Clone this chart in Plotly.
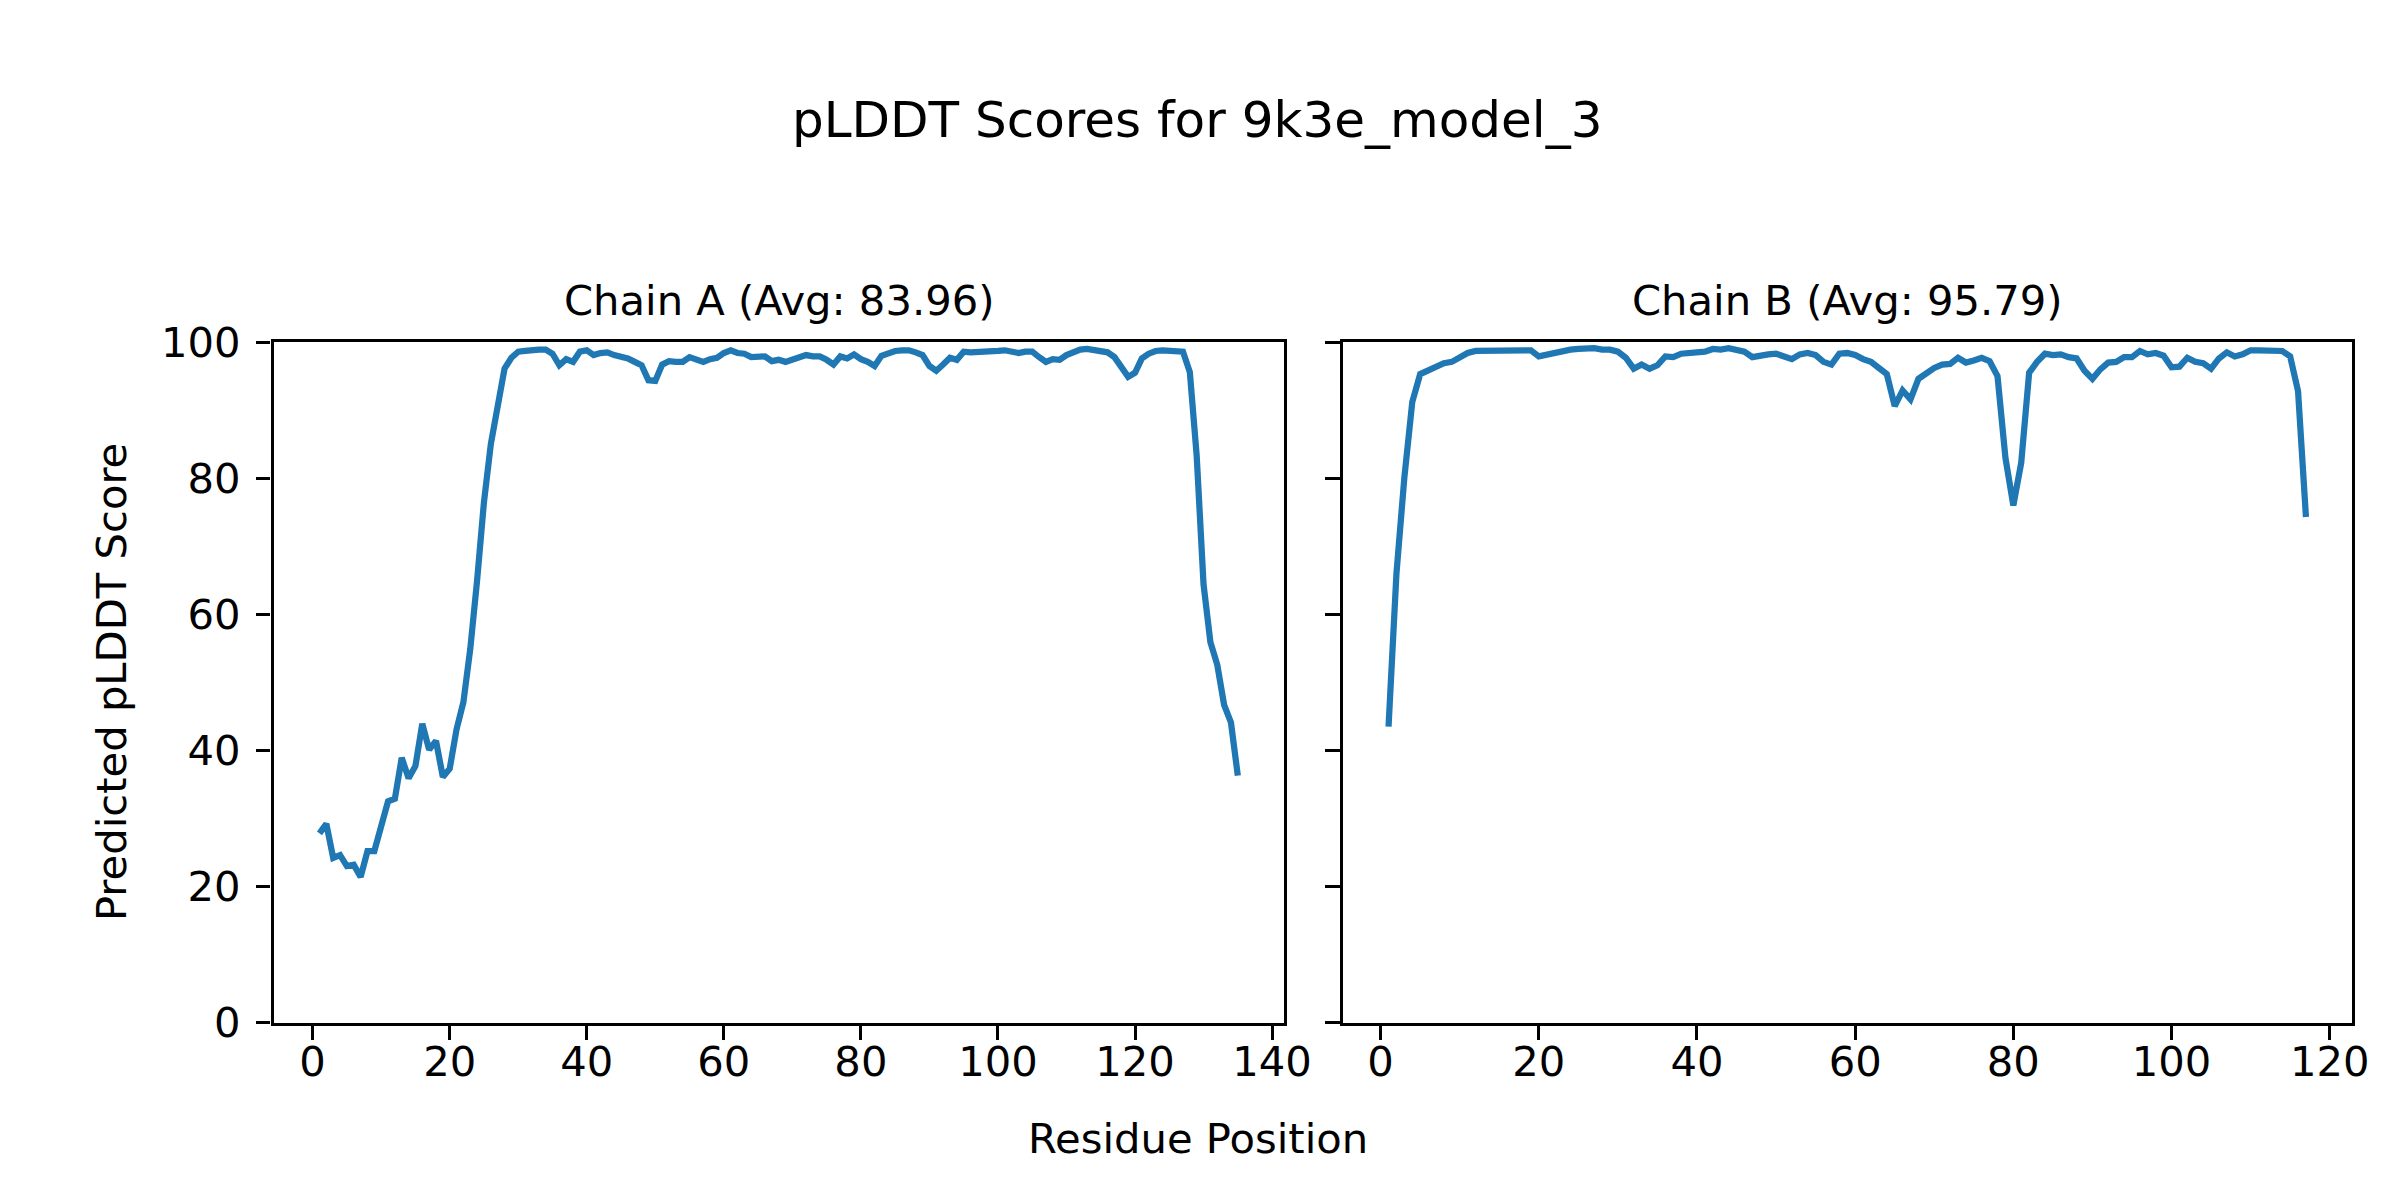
import plotly.graph_objects as go

# ---------------- data ----------------
chain_a_scores = [
    27.8, 29.2, 24.2, 24.6, 23.0, 23.2, 21.4, 25.2, 25.2, 28.6,
    32.5, 32.9, 38.9, 35.9, 37.7, 43.9, 40.1, 41.4, 36.1, 37.3,
    43.1, 47.1, 54.9, 65.0, 76.5, 85.0, 91.2, 96.1, 97.7, 98.6,
    98.7, 98.9, 98.9, 98.9, 98.3, 96.6, 97.5, 97.1, 98.6, 98.8,
    98.1, 98.4, 98.5, 98.1, 97.9, 97.6, 97.1, 96.6, 94.4, 94.3,
    96.7, 97.2, 97.1, 97.1, 97.8, 97.5, 97.1, 97.5, 97.7, 98.4,
    98.8, 98.4, 98.3, 97.8, 97.8, 97.9, 97.2, 97.4, 97.1, 97.5,
    97.8, 98.1, 97.9, 97.9, 97.4, 96.7, 97.9, 97.6, 98.2, 97.5,
    97.1, 96.5, 98.0, 98.4, 98.7, 98.8, 98.8, 98.5, 98.1, 96.5,
    95.8, 96.7, 97.7, 97.4, 98.6, 98.5, 98.5, 98.5, 98.6, 98.7,
    98.8, 98.5, 98.4, 98.6, 98.6, 97.8, 97.1, 97.5, 97.4, 98.1,
    98.5, 98.9, 99.0, 98.9, 98.8, 98.5, 97.8, 96.5, 94.9, 95.5,
    97.6, 98.3, 98.7, 98.8, 98.8, 98.8, 98.6, 95.6, 83.3, 64.4,
    55.9, 52.6, 46.7, 44.1, 36.3,
]
chain_b_scores = [
    43.5, 66.0, 80.1, 91.2, 95.3, 95.8, 96.4, 96.9, 97.1, 97.8,
    98.4, 98.7, 98.7, 98.6, 98.8, 98.8, 98.8, 98.8, 98.8, 97.9,
    98.2, 98.5, 98.8, 98.9, 99.0, 99.1, 99.1, 98.9, 98.9, 98.6,
    97.7, 96.1, 96.7, 96.1, 96.6, 97.9, 97.8, 98.3, 98.4, 98.7,
    98.6, 99.0, 98.9, 99.1, 98.8, 98.6, 97.8, 98.1, 98.2, 98.3,
    97.8, 97.5, 98.2, 98.4, 98.1, 97.1, 96.7, 98.3, 98.4, 98.1,
    97.5, 97.1, 96.2, 95.3, 90.6, 92.9, 91.6, 94.6, 95.4, 96.2,
    96.7, 96.8, 97.7, 97.0, 97.3, 97.7, 97.2, 95.0, 83.0, 76.0,
    82.3, 95.5, 97.1, 98.3, 98.1, 98.2, 97.8, 97.6, 95.8, 94.6,
    96.0, 97.0, 97.1, 97.8, 97.8, 98.7, 98.2, 98.4, 98.0, 96.3,
    96.4, 97.7, 97.1, 96.9, 96.1, 97.6, 98.5, 97.9, 98.2, 98.8,
    98.8, 98.7, 98.6, 98.7, 97.9, 92.8, 74.3,
]
chain_a_positions = list(range(1, len(chain_a_scores) + 1))
chain_b_positions = list(range(1, len(chain_b_scores) + 1))

main_title = "pLDDT Scores for 9k3e_model_3"
subplot_titles = ["Chain A (Avg: 83.96)", "Chain B (Avg: 95.79)"]
x_label = "Residue Position"
y_label = "Predicted pLDDT Score"
y_ticks = [0, 20, 40, 60, 80, 100]
x_ticks_a = [0, 20, 40, 60, 80, 100, 120, 140]
x_ticks_b = [0, 20, 40, 60, 80, 100, 120]

# ---------------- figure ----------------
W, H = 2400, 1200
LINE_COLOR = "#1f77b4"
FONT = "DejaVu Sans"
TICK_PX = 41.7
SPINE_W = 3.3
TICK_LEN = 14.6

fig = go.Figure()
fig.add_trace(go.Scatter(x=chain_a_positions, y=chain_a_scores, mode="lines",
                         line=dict(color=LINE_COLOR, width=6.25),
                         xaxis="x", yaxis="y", showlegend=False))
fig.add_trace(go.Scatter(x=chain_b_positions, y=chain_b_scores, mode="lines",
                         line=dict(color=LINE_COLOR, width=6.25),
                         xaxis="x2", yaxis="y2", showlegend=False))

# target frame positions (pixels in the final picture)
ax_a = (275, 1286)
ax_b = (1345, 2355)
ax_top, ax_bottom = 341, 1022

# effective drawing area observed in the rendered page
EFF_W, EFF_H = 2374.0, 1152.0
OFF_X, OFF_Y = 9.2, 30.6


def xd(px):
    return (px - OFF_X) / EFF_W


def yd(py):
    return 1 - (py - OFF_Y) / EFF_H


def pad_range(n):
    span = n - 1
    return [1 - 0.05 * span, n + 0.05 * span]


common_axis = dict(
    showline=True, linecolor="black", linewidth=SPINE_W, mirror=True,
    ticks="outside", ticklen=TICK_LEN, tickwidth=SPINE_W, tickcolor="black",
    showgrid=False, zeroline=False,
    tickfont=dict(family=FONT, size=TICK_PX, color="black"),
)

fig.update_layout(
    width=W, height=H,
    margin=dict(l=0, r=0, t=0, b=0),
    paper_bgcolor="white", plot_bgcolor="white",
    font=dict(family=FONT, color="black"),
    xaxis=dict(domain=[xd(ax_a[0]), xd(ax_a[1])], anchor="y",
               range=pad_range(len(chain_a_scores)),
               tickmode="array", tickvals=x_ticks_a, ticklabelstandoff=-14,
               **common_axis),
    yaxis=dict(domain=[yd(ax_bottom), yd(ax_top)], anchor="x",
               range=[0, 100], tickmode="array", tickvals=y_ticks,
               ticklabelstandoff=7, **common_axis),
    xaxis2=dict(domain=[xd(ax_b[0]), xd(ax_b[1])], anchor="y2",
                range=pad_range(len(chain_b_scores)),
                tickmode="array", tickvals=x_ticks_b, ticklabelstandoff=-14,
                **common_axis),
    yaxis2=dict(domain=[yd(ax_bottom), yd(ax_top)], anchor="x2",
                range=[0, 100], tickmode="array", tickvals=y_ticks,
                showticklabels=False, **common_axis),
)

annotations = [
    dict(text=main_title, x=xd(1200), y=yd(119), xref="paper", yref="paper",
         xanchor="center", yanchor="middle", showarrow=False,
         font=dict(family=FONT, size=50, color="black")),
    dict(text=subplot_titles[0], x=xd((ax_a[0] + ax_a[1]) / 2), y=yd(ax_top - 15),
         xref="paper", yref="paper", xanchor="center", yanchor="bottom",
         showarrow=False, font=dict(family=FONT, size=TICK_PX, color="black")),
    dict(text=subplot_titles[1], x=xd((ax_b[0] + ax_b[1]) / 2), y=yd(ax_top - 15),
         xref="paper", yref="paper", xanchor="center", yanchor="bottom",
         showarrow=False, font=dict(family=FONT, size=TICK_PX, color="black")),
    dict(text=x_label, x=xd(1200), y=yd(1138), xref="paper", yref="paper",
         xanchor="center", yanchor="middle", showarrow=False,
         font=dict(family=FONT, size=TICK_PX, color="black")),
    dict(text=y_label, x=xd(113), y=yd((ax_top + ax_bottom) / 2), xref="paper",
         yref="paper", xanchor="center", yanchor="middle", textangle=-90,
         showarrow=False, font=dict(family=FONT, size=TICK_PX, color="black")),
]
fig.update_layout(annotations=annotations)

fig.write_html("out.html")
